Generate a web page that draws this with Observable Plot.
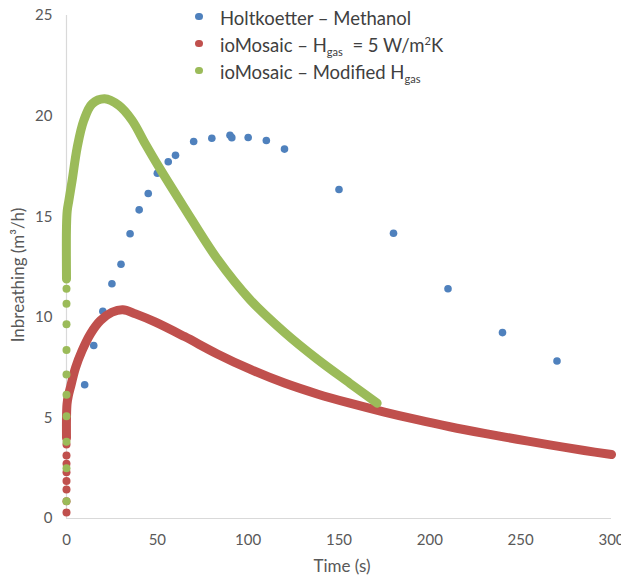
<!DOCTYPE html>
<html>
<head>
<meta charset="utf-8">
<script src="https://cdn.jsdelivr.net/npm/d3@7"></script>
<script src="https://cdn.jsdelivr.net/npm/@observablehq/plot@0.6"></script>
<style>
  html, body { margin: 0; padding: 0; background: #fff; }
  #wrap { position: relative; width: 621px; height: 579px; overflow: hidden; }
  #legend { position: absolute; left: 192px; top: 5px; font-family: Lato, "Noto Sans", sans-serif; font-size: 18.5px; color: #404040; }
  #legend .row { position: relative; height: 27px; line-height: 27px; padding-left: 28px; white-space: nowrap; }
  #legend .mk { position: absolute; left: 3px; top: 7.5px; width: 7.5px; height: 7.5px; border-radius: 50%; }
  #legend sub { font-size: 0.6em; vertical-align: -0.4em; line-height: 0; }
  #legend sup { font-size: 0.6em; vertical-align: 0.6em; line-height: 0; }
  .atitle { position: absolute; font-family: Lato, "Noto Sans", sans-serif; font-size: 17px; color: #595959; white-space: nowrap; line-height: 20px; }
  #xt { left: 242px; width: 200px; top: 556px; text-align: center; }
  #yt { left: -82px; width: 200px; top: 265px; text-align: center; transform: rotate(-90deg); transform-origin: 100px 10px; }
</style>
</head>
<body>
<div id="wrap">
  <div id="chart"></div>
  <div id="legend">
    <div class="row"><span class="mk" style="background:#4F81BD"></span>Holtkoetter – Methanol</div>
    <div class="row"><span class="mk" style="background:#C0504D"></span>ioMosaic – H<sub>gas</sub>&nbsp; = 5 W/m<sup>2</sup>K</div>
    <div class="row"><span class="mk" style="background:#9BBB59"></span>ioMosaic – Modified H<sub>gas</sub></div>
  </div>
  <div class="atitle" id="xt"></div>
  <div class="atitle" id="yt"></div>
</div>
<script>
// Holtkoetter – Methanol (measured points)
const blueT = [10, 15, 20, 25, 30, 35, 40, 45, 50, 56, 60, 70, 80, 90, 91, 100, 110, 120, 150, 180, 210, 240, 270];
const blueV = [6.65, 8.6, 10.3, 11.67, 12.64, 14.15, 15.34, 16.15, 17.16, 17.73, 18.05, 18.74, 18.9, 19.05, 18.93, 18.94, 18.79, 18.36, 16.35, 14.18, 11.42, 9.24, 7.83];

// ioMosaic – Hgas = 5 W/m2K : sparse points at t = 0, then dense trace
const redStartT = [0, 0, 0, 0, 0, 0, 0, 0];
const redStartV = [0.3, 0.86, 1.44, 1.87, 2.3, 2.72, 3.13, 3.68];
const redT = [0, 0, 0.3, 1, 2.2, 5, 8.6, 13.2, 18.7, 25, 31, 38, 49, 65, 83, 101, 120, 138, 156, 175, 193, 211, 230, 248, 266, 285, 300];
const redV = [4.0, 5.0, 5.7, 6.1, 6.53, 7.5, 8.35, 9.18, 9.84, 10.25, 10.38, 10.17, 9.76, 9.04, 8.18, 7.42, 6.73, 6.19, 5.73, 5.29, 4.91, 4.56, 4.23, 3.94, 3.66, 3.38, 3.18];

// ioMosaic – Modified Hgas : sparse points at t = 0, then dense trace
const greenStartT = [0, 0, 0, 0, 0, 0, 0, 0, 0, 0];
const greenStartV = [0.86, 2.5, 3.81, 5.08, 6.15, 7.16, 8.38, 9.66, 10.67, 11.42];
const greenT = [0, 0, 0.4, 1.3, 3.1, 5.9, 9.5, 14.1, 21, 28.8, 36, 43.5, 50, 64.6, 83, 101, 120, 138, 156, 171];
const greenV = [11.9, 14.5, 15.3, 15.8, 16.8, 18.45, 19.78, 20.61, 20.86, 20.53, 19.8, 18.6, 17.6, 15.48, 12.9, 10.88, 9.25, 7.92, 6.72, 5.73];

const xTicks = [0, 50, 100, 150, 200, 250, 300];
const yTicks = [0, 5, 10, 15, 20, 25];
const xLabel = "Time (s)";
const yLabel = "Inbreathing (m³/h)";

const zip = (t, v) => t.map((d, i) => ({t: d, v: v[i]}));
const blue = zip(blueT, blueV);
const redStart = zip(redStartT, redStartV);
const red = zip(redT, redV);
const greenStart = zip(greenStartT, greenStartV);
const green = zip(greenT, greenV);

const chart = Plot.plot({
  width: 621,
  height: 579,
  marginLeft: 66,
  marginRight: 10,
  marginTop: 15,
  marginBottom: 61,
  style: {fontFamily: "Lato, 'Noto Sans', sans-serif", fontSize: "15px", color: "#595959", background: "transparent"},
  x: {domain: [0, 300]},
  y: {domain: [0, 25]},
  marks: [
    Plot.ruleX([0], {stroke: "#d9d9d9", strokeWidth: 1.2}),
    Plot.ruleY([0], {stroke: "#d9d9d9", strokeWidth: 1.2}),
    Plot.axisX({ticks: xTicks, tickSize: 0, tickPadding: 16, label: null, fill: "#595959"}),
    Plot.axisY({ticks: yTicks, tickSize: 0, tickPadding: 14, label: null, fill: "#595959"}),
    Plot.dot(blue, {x: "t", y: "v", r: 3.8, fill: "#4F81BD", stroke: "none"}),
    Plot.line(red, {x: "t", y: "v", stroke: "#C0504D", strokeWidth: 9, curve: "catmull-rom", strokeLinecap: "round", strokeLinejoin: "round"}),
    Plot.dot(redStart, {x: "t", y: "v", r: 4, fill: "#C0504D", stroke: "none"}),
    Plot.line(green, {x: "t", y: "v", stroke: "#9BBB59", strokeWidth: 9, curve: "catmull-rom", strokeLinecap: "round", strokeLinejoin: "round"}),
    Plot.dot(greenStart, {x: "t", y: "v", r: 4, fill: "#9BBB59", stroke: "none"})
  ]
});
document.getElementById("chart").appendChild(chart);
document.getElementById("xt").textContent = xLabel;
document.getElementById("yt").textContent = yLabel;
</script>
</body>
</html>
